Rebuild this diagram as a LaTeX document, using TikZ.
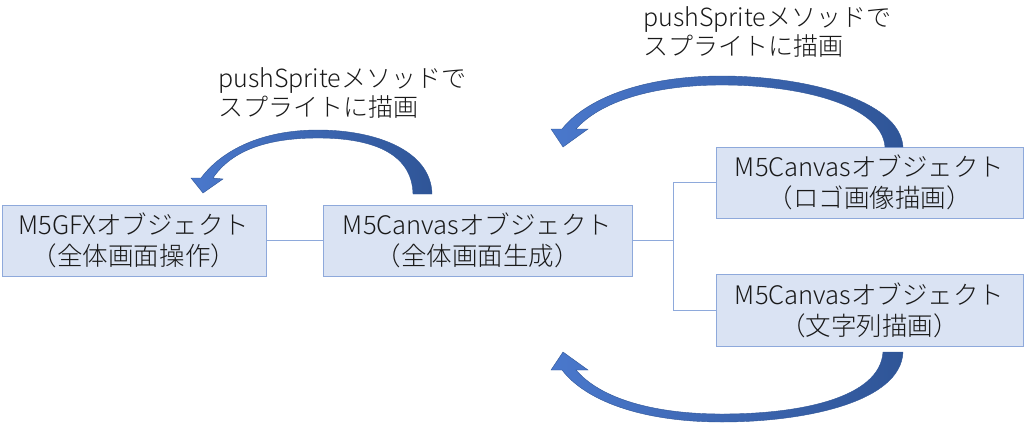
\documentclass[tikz,border=0pt]{standalone}
\usepackage{fontspec}
\newfontfamily\jp[UprightFont={* Light}]{Noto Sans CJK JP}
\definecolor{boxfill}{HTML}{DAE3F3}
\definecolor{boxline}{HTML}{8EA9DB}
\definecolor{arrlight}{HTML}{4A78CC}
\definecolor{arrdark}{HTML}{2F5597}
\tikzset{
  objbox/.style={draw=boxline, fill=boxfill, line width=1pt, inner sep=0pt,
    minimum height=71pt, align=center,
    font=\jp\fontsize{25.5}{31}\selectfont, text=black!90},
  link/.style={draw=boxline, line width=0.9pt},
  note/.style={align=left, anchor=north west, inner sep=0pt,
    font=\jp\fontsize{25}{29}\selectfont, text=black!90},
  bigarrow/.style={left color=arrlight, right color=arrdark, draw=arrdark, line width=0.4pt}
}
\begin{document}
\begin{tikzpicture}[x=1pt,y=-1pt]
\useasboundingbox (0,0) rectangle (1024,423);
% boxes
\node[objbox, minimum width=264pt] (gfx) at (134,240.5) {M5GFXオブジェクト\\（全体画面操作）};
\node[objbox, minimum width=309pt] (main) at (477.5,240.5) {M5Canvasオブジェクト\\（全体画面生成）};
\node[objbox, minimum width=307pt] (logo) at (869.5,182.5) {M5Canvasオブジェクト\\（ロゴ画像描画）};
\node[objbox, minimum width=307pt, minimum height=72pt] (str) at (869.5,310) {M5Canvasオブジェクト\\（文字列描画）};
% connectors
\coordinate (fork) at (673,240.5);
\draw[link] (gfx.east) -- (main.west);
\draw[link] (main.east) -- (fork);
\draw[link] (fork) |- (logo.west);
\draw[link] (fork) |- (str.west);
% curved arrows
\shadedraw[bigarrow] (432,194) .. controls (431,150) and (375,130) .. (318,130)
  .. controls (262,130) and (222,150) .. (201,178)
  -- (191,178) -- (203,193) -- (223,179) -- (213,178)
  .. controls (232,150) and (268,138) .. (318,138)
  .. controls (370,138) and (412,152) .. (413,194) -- cycle;
\shadedraw[bigarrow] (903,147) .. controls (900,100) and (805,76) .. (722,76)
  .. controls (640,76) and (585,100) .. (562,129)
  -- (551,129) -- (563,147) -- (588,129) -- (576,129)
  .. controls (600,102) and (652,85) .. (722,85)
  .. controls (800,85) and (882,105) .. (885,147) -- cycle;
\shadedraw[bigarrow] (903,352) .. controls (901,402) and (805,422) .. (722,422)
  .. controls (640,422) and (585,400) .. (562,370)
  -- (551,370) -- (563,352) -- (588,370) -- (576,370)
  .. controls (600,398) and (652,414) .. (722,414)
  .. controls (800,414) and (880,398) .. (883,352) -- cycle;
% labels
\node[note] (lab1) at (218,67) {pushSpriteメソッドで\\スプライトに描画};
\node[note] (lab2) at (643,6) {pushSpriteメソッドで\\スプライトに描画};
\end{tikzpicture}
\end{document}
